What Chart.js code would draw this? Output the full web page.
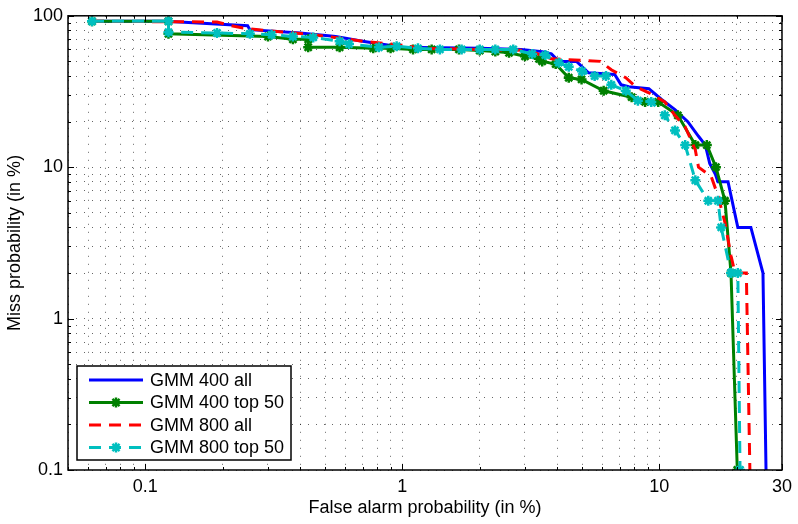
<!DOCTYPE html>
<html>
<head>
<meta charset="utf-8">
<script src="https://cdn.jsdelivr.net/npm/chart.js@4.4.0/dist/chart.umd.min.js"></script>
<style>
  html, body { margin: 0; padding: 0; background: #fff; }
  #wrap { width: 798px; height: 524px; }
</style>
</head>
<body>
<div id="wrap"><canvas id="detChart"></canvas></div>
<script>
// DET curves: false alarm (%) vs miss (%)
const gmm400AllFa   = [0.062, 0.12, 0.25, 0.255, 0.40, 0.55, 0.70, 1.0, 2.0, 2.9, 3.5, 3.8, 4.06, 4.76, 5.3, 6.7, 7.1, 7.6, 9.1, 10.2, 11.5, 12.9, 14.2, 15.1, 15.7, 16.5, 16.9, 18.5, 20.2, 22.7, 25.3, 26.0];
const gmm400AllMiss = [92, 92, 86, 81, 77, 73, 68, 62, 61, 60, 58, 56, 50, 50, 42, 41, 35, 34, 33, 28, 24, 20, 16, 14, 10.6, 9, 8, 8, 4, 4, 2, 0.1];

const gmm400TopFa   = [0.062, 0.123, 0.123, 0.30, 0.375, 0.43, 0.43, 0.57, 0.77, 0.9, 1.1, 1.3, 1.66, 2.0, 2.3, 2.6, 3.0, 3.4, 3.5, 3.95, 4.44, 4.98, 6.07, 7.8, 8.8, 9.9, 11.8, 13.8, 15.3, 16.6, 18.0, 19.0, 20.1];
const gmm400TopMiss = [92, 92, 76, 73, 70, 70, 62, 62, 61, 61, 60, 60, 60, 59, 58, 57, 54, 52, 50, 48, 39, 38, 32, 29, 27, 27, 22, 14, 14, 10, 6, 2, 0.1];

const gmm800AllFa   = [0.062, 0.19, 0.21, 0.24, 0.29, 0.35, 0.42, 0.51, 0.70, 1.0, 1.2, 2.0, 3.1, 3.8, 5.9, 6.5, 7.4, 8.1, 9.1, 10.5, 11.5, 12.6, 13.8, 14.2, 15.9, 16.9, 18.0, 19.0, 19.7, 21.8, 22.5];
const gmm800AllMiss = [92, 91, 87, 83, 80, 78, 76, 73, 68, 64, 61, 60, 59, 52, 50, 44, 39, 34, 31, 27, 22, 18.5, 13, 10, 8.7, 6.5, 4.3, 2.6, 2, 2, 0.1];

const gmm800TopFa   = [0.062, 0.123, 0.123, 0.19, 0.255, 0.31, 0.375, 0.45, 0.57, 0.62, 0.81, 0.95, 1.15, 1.4, 1.7, 2.0, 2.3, 2.7, 3.2, 3.6, 4.06, 4.44, 5.0, 5.6, 6.2, 6.5, 7.4, 8.25, 9.3, 10.5, 11.5, 12.6, 13.8, 15.5, 16.9, 17.4, 19.0, 20.2, 20.6];
const gmm800TopMiss = [92, 92, 78, 77, 76, 75, 73, 72, 68, 65, 62, 63, 61, 60, 60, 60, 60, 60, 56, 55, 49, 46, 43, 40, 40, 35, 32, 27.5, 27, 22, 17.5, 14, 8.2, 6, 6, 4, 2, 2, 0.1];

const seriesNames = ['GMM 400 all', 'GMM 400 top 50', 'GMM 800 all', 'GMM 800 top 50'];

const xTickValues = [0.05, 0.06, 0.07, 0.08, 0.09, 0.1, 0.2, 0.3, 0.4, 0.5, 0.6, 0.7, 0.8, 0.9,
                     1, 2, 3, 4, 5, 6, 7, 8, 9, 10, 20, 30];
const xTickLabels = { 0.1: '0.1', 1: '1', 10: '10', 30: '30' };
const yTickValues = [0.1, 0.2, 0.3, 0.4, 0.5, 0.6, 0.7, 0.8, 0.9,
                     1, 2, 3, 4, 5, 6, 7, 8, 9,
                     10, 20, 30, 40, 50, 60, 70, 80, 90, 100];
const yTickLabels = { 0.1: '0.1', 1: '1', 10: '10', 100: '100' };

const FONT = "'Liberation Sans', Arial, Helvetica, sans-serif";

function pairs(xs, ys) {
  return xs.map((x, i) => ({ x: x, y: ys[i] }));
}

// inward tick marks and the axes box, matlab style
const boxTicks = {
  id: 'boxTicks',
  afterDraw(chart) {
    const ctx = chart.ctx;
    const a = chart.chartArea;
    const xs = chart.scales.x, ys = chart.scales.y;
    ctx.save();
    ctx.strokeStyle = '#000';
    ctx.lineWidth = 1;
    ctx.beginPath();
    xTickValues.forEach(v => {
      const p = Math.round(xs.getPixelForValue(v)) + 0.5;
      const len = xTickLabels[v] ? 6 : 3;
      ctx.moveTo(p, a.bottom); ctx.lineTo(p, a.bottom - len);
      ctx.moveTo(p, a.top); ctx.lineTo(p, a.top + len);
    });
    yTickValues.forEach(v => {
      const p = Math.round(ys.getPixelForValue(v)) + 0.5;
      const len = yTickLabels[v] ? 6 : 3;
      ctx.moveTo(a.left, p); ctx.lineTo(a.left + len, p);
      ctx.moveTo(a.right, p); ctx.lineTo(a.right - len, p);
    });
    ctx.stroke();
    ctx.lineWidth = 1.5;
    ctx.strokeRect(a.left, a.top, a.right - a.left, a.bottom - a.top);
    ctx.restore();
  }
};

// legend box in the lower left corner of the axes
const boxLegend = {
  id: 'boxLegend',
  afterDraw(chart) {
    const ctx = chart.ctx;
    const a = chart.chartArea;
    const bx = a.left + 9, bw = 214, bh = 94;
    const by = a.bottom - 10 - bh;
    ctx.save();
    ctx.fillStyle = '#fff';
    ctx.fillRect(bx, by, bw, bh);
    ctx.strokeStyle = '#000';
    ctx.lineWidth = 1.5;
    ctx.strokeRect(bx, by, bw, bh);
    chart.data.datasets.forEach((ds, i) => {
      const y = by + 14 + i * 22.5;
      const x0 = bx + 12, x1 = bx + 66;
      ctx.strokeStyle = ds.borderColor;
      ctx.lineWidth = ds.borderWidth;
      ctx.setLineDash(ds.borderDash || []);
      ctx.beginPath();
      ctx.moveTo(x0, y); ctx.lineTo(x1, y);
      ctx.stroke();
      ctx.setLineDash([]);
      if (ds.pointRadius > 0) {
        ctx.fillStyle = ds.borderColor;
        ctx.lineWidth = ds.pointBorderWidth;
        Chart.helpers.drawPoint(ctx, { pointStyle: ds.pointStyle, radius: ds.pointRadius, borderWidth: ds.pointBorderWidth, rotation: 0 }, (x0 + x1) / 2, y);
      }
      ctx.fillStyle = '#000';
      ctx.font = '18px ' + FONT;
      ctx.textBaseline = 'middle';
      ctx.fillText(seriesNames[i], bx + 73, y + 1);
    });
    ctx.restore();
  }
};

const ctx = document.getElementById('detChart').getContext('2d');
new Chart(ctx, {
  type: 'line',
  data: {
    datasets: [
      {
        label: seriesNames[0], data: pairs(gmm400AllFa, gmm400AllMiss),
        borderColor: '#0000ff', borderWidth: 3, pointRadius: 0, order: 4
      },
      {
        label: seriesNames[1], data: pairs(gmm400TopFa, gmm400TopMiss),
        borderColor: '#008000', borderWidth: 3, order: 3,
        pointStyle: 'star', pointRadius: 5, pointBorderWidth: 2.5,
        pointBorderColor: '#008000', pointBackgroundColor: '#008000'
      },
      {
        label: seriesNames[2], data: pairs(gmm800AllFa, gmm800AllMiss),
        borderColor: '#ff0000', borderWidth: 3, borderDash: [12, 8], pointRadius: 0, order: 2
      },
      {
        label: seriesNames[3], data: pairs(gmm800TopFa, gmm800TopMiss),
        borderColor: '#00bfbf', borderWidth: 3, borderDash: [12, 8], order: 1,
        pointStyle: 'star', pointRadius: 5, pointBorderWidth: 2.5,
        pointBorderColor: '#00bfbf', pointBackgroundColor: '#00bfbf'
      }
    ]
  },
  options: {
    responsive: true,
    maintainAspectRatio: false,
    animation: false,
    devicePixelRatio: 1,
    layout: { padding: { top: 11, right: 13, left: 0, bottom: 0 } },
    elements: { line: { tension: 0 } },
    plugins: {
      legend: { display: false },
      tooltip: { enabled: false }
    },
    scales: {
      x: {
        type: 'logarithmic',
        min: 0.05, max: 30,
        afterBuildTicks: (axis) => { axis.ticks = xTickValues.map(v => ({ value: v })); },
        afterFit: (axis) => { axis.height = 54; },
        grid: { color: 'rgba(0,0,0,0.6)', lineWidth: 1, drawTicks: false },
        border: { display: false, dash: [1, 7] },
        ticks: {
          autoSkip: false, maxRotation: 0, padding: 6, color: '#000',
          font: { family: FONT, size: 18 },
          callback: (v) => xTickLabels[v] || ''
        },
        title: {
          display: true, text: 'False alarm probability (in %)', color: '#000',
          font: { family: FONT, size: 18 }, padding: { top: 0, bottom: 5 }
        }
      },
      y: {
        type: 'logarithmic',
        min: 0.1, max: 100,
        afterBuildTicks: (axis) => { axis.ticks = yTickValues.map(v => ({ value: v })); },
        afterFit: (axis) => { axis.width = 68; },
        grid: { color: 'rgba(0,0,0,0.6)', lineWidth: 1, drawTicks: false },
        border: { display: false, dash: [1, 7] },
        ticks: {
          autoSkip: false, padding: 5, color: '#000',
          font: { family: FONT, size: 18 },
          callback: (v) => yTickLabels[v] || ''
        },
        title: {
          display: true, text: 'Miss probability (in %)', color: '#000',
          font: { family: FONT, size: 18 }, padding: { top: 4, bottom: 0 }
        }
      }
    }
  },
  plugins: [boxTicks, boxLegend]
});
</script>
</body>
</html>
